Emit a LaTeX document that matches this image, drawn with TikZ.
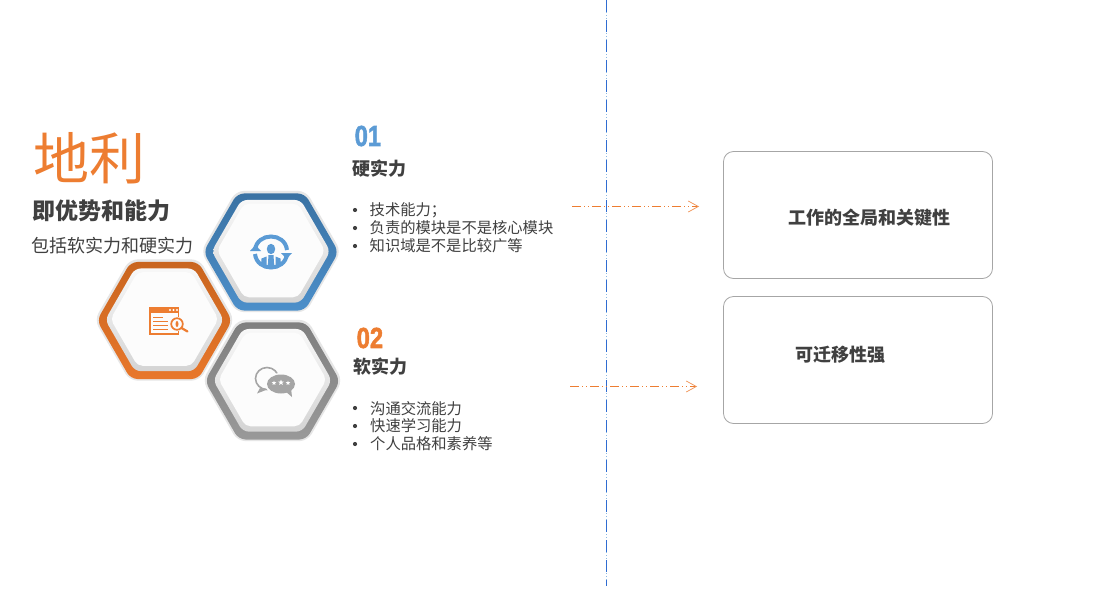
\documentclass[tikz,border=0pt]{standalone}
\usepackage{fontspec}
\usepackage{graphicx}
\setmainfont{Noto Sans CJK SC}
\newfontfamily\numfont[FakeBold=2]{Liberation Sans Bold}
\usetikzlibrary{arrows.meta,shadings}
\definecolor{txt}{HTML}{404040}
\definecolor{ora}{HTML}{ED7D31}
\definecolor{blu}{HTML}{5B9BD5}
\definecolor{gry}{HTML}{A5A5A5}
\definecolor{divb}{HTML}{2F6CD1}
\definecolor{faceh}{HTML}{FCFCFC}
\definecolor{haloc}{HTML}{E6E6E6}
\definecolor{btop}{HTML}{3A72A3}
\definecolor{bbot}{HTML}{4C8FCA}
\definecolor{otop}{HTML}{C9651F}
\definecolor{obot}{HTML}{E8772B}
\definecolor{gtop}{HTML}{7F7F7F}
\definecolor{gbot}{HTML}{999999}
\definecolor{bevt}{HTML}{F8F8F8}
\definecolor{bevm}{HTML}{EDEDED}
\definecolor{bevb}{HTML}{D4D4D4}
\newcommand{\fs}[1]{\fontsize{#1}{#1}\selectfont}
\newcommand{\hexpath}[1]{(-#1,0) -- (-#1/2,-.866*#1) -- (#1/2,-.866*#1) -- (#1,0) -- (#1/2,.866*#1) -- (-#1/2,.866*#1) -- cycle}
\newcommand{\hexa}[4]{%
 \begin{scope}[shift={(#1,#2)}]
  \fill[haloc,rounded corners=8] \hexpath{70};
  \begin{scope}[shift={(0,.5)}]
   \shade[top color=#3,bottom color=#4,rounded corners=7] \hexpath{67.6};
  \end{scope}
  \begin{scope}[shift={(0,-.2)}]
   \shade[top color=bevt,middle color=bevm,bottom color=bevb,rounded corners=6] \hexpath{59.3};
  \end{scope}
  \begin{scope}[shift={(0,-1)}]
   \fill[faceh,rounded corners=5] \hexpath{54};
  \end{scope}
 \end{scope}}
\newcommand{\minstar}[3]{\fill[white,shift={(#1,#2)}] (-90:#3) -- (-54:.42*#3) -- (-18:#3) -- (18:.42*#3) -- (54:#3) -- (90:.42*#3) -- (126:#3) -- (162:.42*#3) -- (198:#3) -- (234:.42*#3) -- cycle;}
\tikzset{
 x=1pt,y=-1pt,
 hd/.style={anchor=west,inner sep=0pt,text=txt,font=\fs{18}\bfseries},
 body/.style={anchor=west,inner sep=0pt,text=txt,font=\fs{15.3}},
 dot/.style={circle,fill=txt,inner sep=0pt,minimum size=4.2pt},
 num/.style={anchor=west,inner sep=0pt,font=\numfont\fs{29}},
 flow/.style={ora,line width=.9pt,dash pattern=on 9pt off 3pt on 1pt off 3pt on 1pt off 3pt,-{Straight Barb[length=10pt,width=11pt,line width=.7pt,color=ora!85!white]}},
 card/.style={draw=black!35,line width=.8pt,rounded corners=10pt,fill=white},
}
\begin{document}
\begin{tikzpicture}
\useasboundingbox (0,0) rectangle (1111,602);
\fill[white] (0,0) rectangle (1111,602);
% divider
\coordinate (dtop) at (606,0);
\coordinate (dbot) at (606,586);
\draw[blu!70!white,line width=.8pt,dash pattern=on 1pt off 2pt] (dtop) -- (dbot);
\draw[divb,line width=.9pt,dash pattern=on 12pt off 8pt] (dtop) -- (dbot);
% hexagons
\hexa{271}{251.5}{btop}{bbot}
\hexa{164.5}{320}{otop}{obot}
\hexa{272.5}{380.5}{gtop}{gbot}
% blue icon
\begin{scope}[shift={(271,252)}]
 \draw[blu,line width=4pt] (-16,-2) .. controls (-14,-20) and (14,-20) .. (16,-2);
 \draw[blu,line width=4pt] (-16,2) .. controls (-14,20) and (14,20) .. (16,2);
 \fill[blu] (-21,-1) -- (-10,-1) -- (-15.5,-7) -- cycle;
 \fill[blu] (21,1) -- (10,1) -- (15.5,7) -- cycle;
 \fill[blu] (0,-3) ellipse[x radius=4.2,y radius=5.2];
 \fill[blu] (-2.5,3) -- (2.5,3) -- (3.2,14) -- (-3.2,14) -- cycle;
 \fill[blu] (-4.5,4.5) -- (-9.5,6.5) -- (-10,13) -- (-4.5,14) -- cycle;
 \fill[blu] (4.5,4.5) -- (9.5,6.5) -- (10,13) -- (4.5,14) -- cycle;
\end{scope}
% orange icon
\draw[ora,line width=1.7pt] (150,308) rectangle (178.5,334);
\fill[ora] (149,307) rectangle (179,313);
\foreach \px in {170,173.5,177}{\fill[white] (\px,310) circle[radius=1.1];}
\foreach \py/\pl in {317/163,321/168,325/168,329/168}{\fill[ora] (153,\py-.45) rectangle (\pl,\py+.45);}
\fill[faceh] (177,324) circle[radius=7.2];
\draw[ora,line width=1.7pt] (177,324) circle[radius=5.8];
\fill[ora] (177,324) ellipse[x radius=1.5,y radius=3];
\draw[ora,line width=2.2pt,line cap=round] (181.5,328) -- (187.5,331.5);
% gray icon
\draw[gry,line width=1.6pt] (267,378.5) ellipse[x radius=11.5,y radius=11];
\fill[gry] (260,388) -- (257,393.5) -- (266,390) -- cycle;
\fill[faceh] (281,384) ellipse[x radius=16,y radius=11];
\fill[gry] (281,384) ellipse[x radius=14,y radius=9.5];
\fill[gry] (285,391) -- (292,397) -- (291,388) -- cycle;
\minstar{274}{383}{2.4}
\minstar{281}{382.5}{3}
\minstar{288}{383}{2.4}
% left text
\node[anchor=west,inner sep=0pt,text=ora,font=\fs{56}] (title) at (33,158.5) {地利};
\node[hd,font=\fs{23}\bfseries] (sub) at (32.5,211) {即优势和能力};
\node[body,font=\fs{18}] (desc) at (31.5,246) {包括软实力和硬实力};
% section 01
\node[num,text=blu] (n1) at (354.5,136) {\scalebox{.82}[1]{01}};
\node[hd] (h1) at (352.5,168.5) {硬实力};
\node[dot] (d11) at (355,210) {};
\node[body] (b11) at (369.5,210) {技术能力；};
\node[dot] (d12) at (355,228) {};
\node[body] (b12) at (369.5,228) {负责的模块是不是核心模块};
\node[dot] (d13) at (355,246) {};
\node[body] (b13) at (369.5,246) {知识域是不是比较广等};
% section 02
\node[num,text=ora] (n2) at (356.5,338) {\scalebox{.82}[1]{02}};
\node[hd] (h2) at (353,366.5) {软实力};
\node[dot] (d21) at (355,408) {};
\node[body] (b21) at (370,408.5) {沟通交流能力};
\node[dot] (d22) at (355,426) {};
\node[body] (b22) at (370,426) {快速学习能力};
\node[dot] (d23) at (355,444) {};
\node[body] (b23) at (370,444) {个人品格和素养等};
% arrows
\coordinate (a1s) at (572,206.5);
\coordinate (a1e) at (699,206.5);
\coordinate (a2s) at (570,386.5);
\coordinate (a2e) at (697,386.5);
\draw[flow] (a1s) -- (a1e);
\draw[flow] (a2s) -- (a2e);
% cards
\draw[card] (723.5,151.5) rectangle (992.5,278.5);
\draw[card] (723.5,296.5) rectangle (992.5,423.5);
\node[hd] (c1) at (788.5,217.5) {工作的全局和关键性};
\node[hd] (c2) at (795.5,354.5) {可迁移性强};
\end{tikzpicture}
\end{document}
